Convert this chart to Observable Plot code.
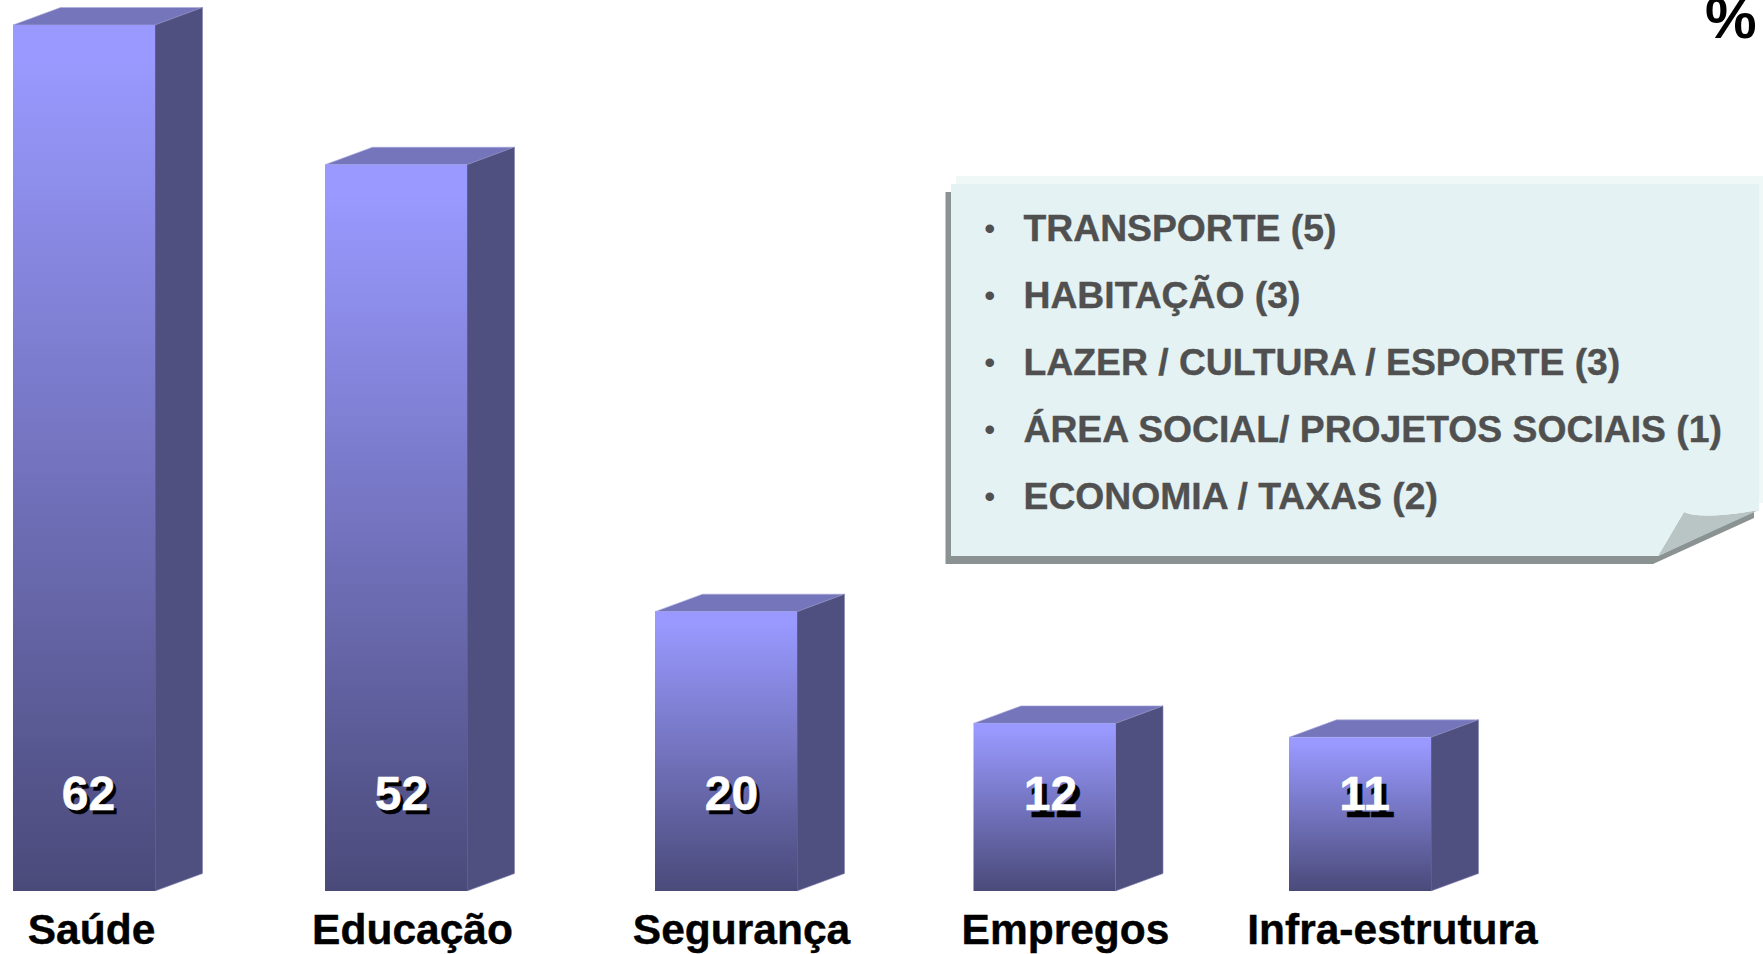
<!DOCTYPE html>
<html>
<head>
<meta charset="utf-8">
<script src="https://cdn.jsdelivr.net/npm/d3@7"></script>
<script src="https://cdn.jsdelivr.net/npm/@observablehq/plot@0.6"></script>
<style>html,body{margin:0;padding:0;background:#fff;overflow:hidden}svg{display:block}</style>
</head>
<body>
<div id="chart"></div>
<script>
const categories = ["Saúde", "Educação", "Segurança", "Empregos", "Infra-estrutura"];
const values = [62, 52, 20, 12, 11];
const noteItems = ["TRANSPORTE (5)", "HABITAÇÃO (3)", "LAZER / CULTURA / ESPORTE (3)", "ÁREA SOCIAL/ PROJETOS SOCIAIS (1)", "ECONOMIA / TAXAS (2)"];
const unit = "%";

const rows = categories.map((category, i) => ({category, value: values[i]}));
// the bars are not quite evenly spaced: a small nudge off the point scale
const barNudge = [0, -7, 4, 3.5, 0];
const labelDx = [7, 9, 19, 24, 32];
const valueDx = [4, -2, 9, 9, 4];
const shadowDx = [3, 3, 3, 5, 5];
const shadowDy = [3, 3, 3, 6, 6];
const FONT = "'Liberation Sans', Arial, sans-serif";

// 3D box faces, placed through the x and y scales
const boxes = Plot.ruleX(rows, {
  x: "category", y1: 0, y2: "value",
  render(index, scales) {
    const g = d3.create("svg:g").attr("aria-label", "bar");
    const defs = g.append("defs");
    const w = 71, dx = 47.5, dy = 17.5, base = scales.y(0);
    for (const i of index) {
      const c = scales.x(rows[i].category) + barNudge[i], top = scales.y(rows[i].value);
      const l = c - w, r = c + w, id = "front" + i;
      const grad = defs.append("linearGradient").attr("id", id).attr("x1", 0).attr("x2", 0).attr("y1", 0).attr("y2", 1);
      grad.append("stop").attr("offset", "4%").attr("stop-color", "#9999ff");
      grad.append("stop").attr("offset", "100%").attr("stop-color", "#4a4a7a");
      g.append("path").attr("d", `M${l},${top}L${l + dx},${top - dy}L${r + dx},${top - dy}L${r},${top}Z`)
        .attr("fill", "#7575bb").attr("stroke", "#a9a9dd").attr("stroke-width", 0.6);
      g.append("path").attr("d", `M${r},${top}L${r + dx},${top - dy}L${r + dx},${base - dy}L${r},${base}Z`)
        .attr("fill", "#4f4f80").attr("stroke", "#8585b5").attr("stroke-width", 0.6);
      g.append("rect").attr("x", l).attr("y", top).attr("width", r - l).attr("height", base - top)
        .attr("fill", `url(#${id})`);
    }
    return g.node();
  }
});

// folded note behind the list
const note = () => {
  const g = d3.create("svg:g").attr("aria-label", "note");
  const p = (d, fill) => g.append("path").attr("d", d).attr("fill", fill);
  p("M956,176H1763V503H1759V184H956Z", "#f0f7f7");
  p("M945.5,192H951V556H1658L1754,511V518L1653,564H945.5Z", "#8a9391");
  p("M1684,512Q1700,520 1759,510L1658,556Z", "#b8c5c4");
  p("M951,184H1759V510Q1700,520 1684,512L1658,556H951Z", "#e4f2f3");
  return g.node();
};

const textBase = {fontFamily: FONT, fontWeight: "bold", frameAnchor: "top-left", textAnchor: "start", lineAnchor: "middle"};
const valueBase = {x: "category", text: d => String(d.value), fontFamily: FONT, fontWeight: "bold", fontSize: 48,
  letterSpacing: "-3px", frameAnchor: "top", lineAnchor: "middle"};

const plot = Plot.plot({
  width: 1763, height: 954,
  margin: 0,
  style: {background: "#fff", fontFamily: FONT},
  x: {type: "point", domain: categories, range: [84, 1360], padding: 0, axis: null},
  y: {domain: [0, 62], range: [891, 25], axis: null},
  marks: [
    boxes,
    note,
    ...noteItems.map((t, i) => Plot.text([t], {...textBase, text: d => d, fill: "#505050", stroke: "#505050", strokeWidth: 0.4, fontSize: 37.3, dx: 1023, dy: 229 + i * 66.9})),
    ...noteItems.map((_, i) => Plot.text(["•"], {...textBase, text: d => d, fill: "#505050", fontSize: 30, dx: 984, dy: 229 + i * 66.9})),
    ...categories.map((c, i) => Plot.text([c], {x: d => d, text: d => d, fontFamily: FONT, fontWeight: "bold", fontSize: 42.5, fill: "#000", stroke: "#000", strokeWidth: 0.4,
      frameAnchor: "top", lineAnchor: "middle", dx: labelDx[i], dy: 930})),
    ...rows.map((r, i) => Plot.text([r], {...valueBase, fill: "#000", stroke: "#000", strokeWidth: 0.5, dx: valueDx[i] + shadowDx[i], dy: 795 + shadowDy[i]})),
    ...rows.map((r, i) => Plot.text([r], {...valueBase, fill: "#fff", stroke: "#fff", strokeWidth: 0.5, dx: valueDx[i], dy: 794})),
    Plot.text([unit], {text: d => d, frameAnchor: "top-right", textAnchor: "end", lineAnchor: "bottom", fontFamily: FONT, fontWeight: "bold", fontSize: 58, fill: "#000", dx: -7, dy: 37})
  ]
});
document.getElementById("chart").append(plot);
</script>
</body>
</html>
